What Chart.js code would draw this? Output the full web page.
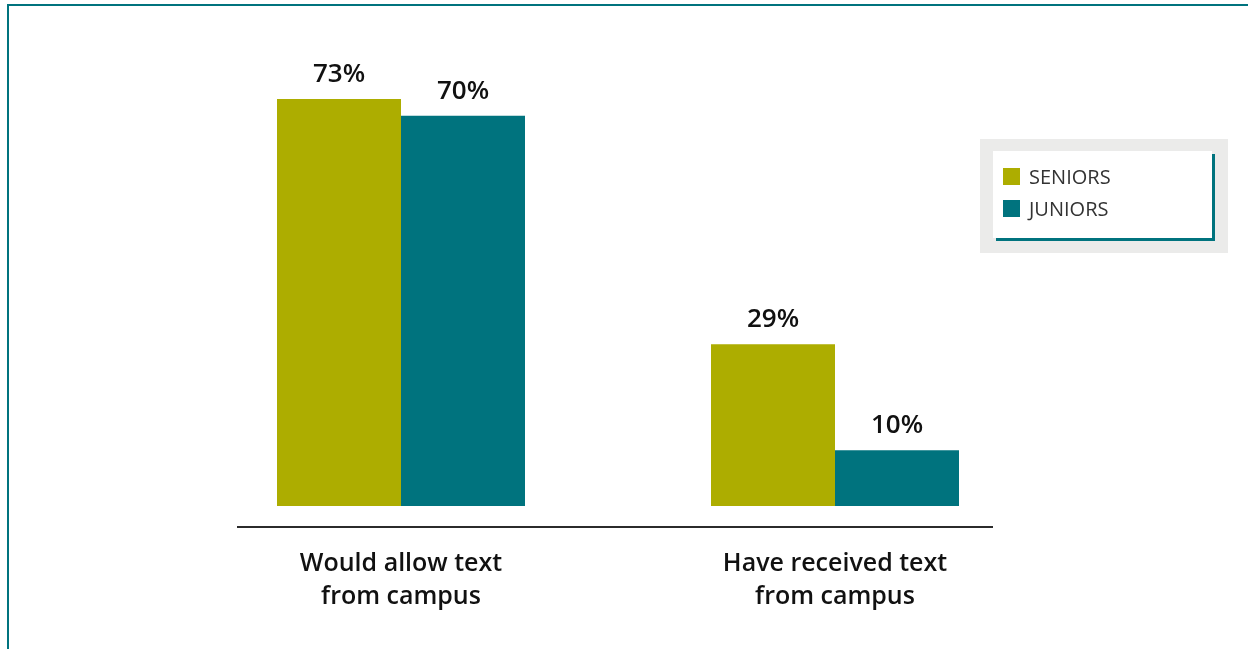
<!DOCTYPE html>
<html>
<head>
<meta charset="utf-8">
<script src="https://cdn.jsdelivr.net/npm/chart.js@4/dist/chart.umd.min.js"></script>
<style>
html,body{margin:0;padding:0;background:#fff;}
#wrap{position:relative;width:1248px;height:649px;}
</style>
</head>
<body>
<div id="wrap"><canvas id="c" width="1248" height="649"></canvas></div>
<script>
const categories = [["Would allow text", "from campus"], ["Have received text", "from campus"]];
const seriesNames = ["SENIORS", "JUNIORS"];
const seniors = [73, 29];
const juniors = [70, 10];
const colors = ["#adad00", "#00737e"];

const TEAL = "#00737e";
const LABEL_FONT = "600 26px 'Open Sans', sans-serif";

const framePlugin = {
  id: 'frame',
  beforeDraw(chart) {
    const ctx = chart.ctx;
    ctx.save();
    ctx.fillStyle = '#fff';
    ctx.fillRect(0, 0, chart.width, chart.height);
    ctx.fillStyle = TEAL;
    ctx.fillRect(7, 4, chart.width - 7, 2);
    ctx.fillRect(7, 4, 2, chart.height - 4);
    ctx.restore();
  },
  afterDatasetsDraw(chart) {
    const ctx = chart.ctx;
    const area = chart.chartArea;
    // baseline axis line
    ctx.save();
    ctx.strokeStyle = '#2b2b2b';
    ctx.lineWidth = 2;
    ctx.beginPath();
    ctx.moveTo(area.left + 53, area.bottom + 1);
    ctx.lineTo(area.right - 59, area.bottom + 1);
    ctx.stroke();
    // value labels
    ctx.fillStyle = '#111';
    ctx.font = LABEL_FONT;
    ctx.textAlign = 'center';
    ctx.textBaseline = 'alphabetic';
    chart.data.datasets.forEach((ds, i) => {
      const meta = chart.getDatasetMeta(i);
      meta.data.forEach((bar, j) => {
        ctx.fillText(ds.data[j] + '%', bar.x, bar.y - 17);
      });
    });
    // legend
    const lx = 980, ly = 139, lw = 248, lh = 114;
    ctx.fillStyle = '#ebebea';
    ctx.fillRect(lx, ly, lw, lh);
    ctx.fillStyle = TEAL;
    ctx.fillRect(996, 154, 219, 87);
    ctx.fillStyle = '#fff';
    ctx.fillRect(993, 151, 219, 87);
    ctx.font = "400 20px 'Open Sans', sans-serif";
    ctx.textBaseline = 'middle';
    ctx.textAlign = 'left';
    chart.data.datasets.forEach((ds, i) => {
      const y = 168 + i * 32;
      ctx.fillStyle = ds.backgroundColor;
      ctx.fillRect(1003, y, 17, 17);
      ctx.fillStyle = '#333';
      ctx.fillText(ds.label, 1029, y + 10.5);
    });
    ctx.restore();
  }
};

new Chart(document.getElementById('c'), {
  type: 'bar',
  data: {
    labels: categories,
    datasets: [
      { label: seriesNames[0], data: seniors, backgroundColor: colors[0] },
      { label: seriesNames[1], data: juniors, backgroundColor: colors[1] }
    ]
  },
  options: {
    responsive: false,
    animation: false,
    devicePixelRatio: 1,
    layout: { padding: { left: 184, right: 196, top: 32, bottom: 15 } },
    datasets: { bar: { barPercentage: 1.0, categoryPercentage: 248 / 434, borderWidth: 0 } },
    plugins: { legend: { display: false }, tooltip: { enabled: false } },
    scales: {
      y: { display: false, min: -3.59, max: 85 },
      x: {
        border: { display: false },
        grid: { display: false, drawTicks: false },
        ticks: {
          color: '#111',
          padding: 21,
          maxRotation: 0,
          autoSkip: false,
          font: { family: "'Open Sans', sans-serif", size: 25, weight: '600', lineHeight: 1.32 }
        }
      }
    }
  },
  plugins: [framePlugin]
});
</script>
</body>
</html>
